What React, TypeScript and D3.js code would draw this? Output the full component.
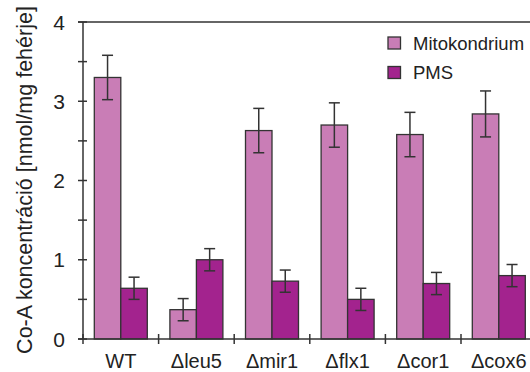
import React from "react";
import * as d3 from "d3";

const categories = ["WT", "Δleu5", "Δmir1", "Δflx1", "Δcor1", "Δcox6"];
const seriesNames = ["Mitokondrium", "PMS"];
const mitoValues = [3.3, 0.37, 2.63, 2.7, 2.58, 2.84];
const mitoErrors = [0.28, 0.14, 0.28, 0.28, 0.28, 0.29];
const pmsValues = [0.64, 1.0, 0.73, 0.5, 0.7, 0.8];
const pmsErrors = [0.14, 0.14, 0.14, 0.14, 0.14, 0.14];
const yTicks = [0, 1, 2, 3, 4];
const yMinorTicks = [0.5, 1.5, 2.5, 3.5];

const colors = ["#c97db6", "#a3238e"];
const font = "'Liberation Sans', Arial, sans-serif";

export default function App() {
  const width = 530;
  const height = 372;
  const x0 = 83;
  const bandW = 75.6;
  const top = 22;
  const bottom = 339;

  const x = d3
    .scaleBand<string>()
    .domain(categories)
    .range([x0, x0 + bandW * categories.length])
    .paddingInner(0)
    .paddingOuter(0);
  const inner = d3.scaleBand<string>().domain(seriesNames).range([11.3, bandW - 11.3]);
  const y = d3.scaleLinear().domain([0, 4]).range([bottom, top]);

  const series = [
    { name: seriesNames[0], values: mitoValues, errors: mitoErrors, color: colors[0] },
    { name: seriesNames[1], values: pmsValues, errors: pmsErrors, color: colors[1] },
  ];

  return (
    <svg width={width} height={height} style={{ position: "absolute", left: 0, top: 0 }} fontFamily={font}>
      <rect width={width} height={height} fill="#fff" />
      {series.map((s) =>
        categories.map((c, i) => {
          const bx = (x(c) as number) + (inner(s.name) as number);
          const bw = inner.bandwidth();
          const cx = bx + bw / 2;
          const v = s.values[i];
          const e = s.errors[i];
          return (
            <g key={s.name + c}>
              <rect x={bx} y={y(v)} width={bw} height={y(0) - y(v)} fill={s.color} stroke="#333" strokeWidth={1.3} />
              <line x1={cx} x2={cx} y1={y(v + e)} y2={y(v - e)} stroke="#333" strokeWidth={1.5} />
              <line x1={cx - 5.5} x2={cx + 5.5} y1={y(v + e)} y2={y(v + e)} stroke="#333" strokeWidth={1.5} />
              <line x1={cx - 5.5} x2={cx + 5.5} y1={y(v - e)} y2={y(v - e)} stroke="#333" strokeWidth={1.5} />
            </g>
          );
        })
      )}
      {/* axes */}
      <line x1={x0} x2={x0} y1={top} y2={bottom} stroke="#333" strokeWidth={1.5} />
      <line x1={x0 - 5} x2={width} y1={top} y2={top} stroke="#333" strokeWidth={1.5} />
      <line x1={x0 - 5} x2={width} y1={bottom} y2={bottom} stroke="#333" strokeWidth={1.5} />
      {[...yTicks, ...yMinorTicks].map((t) => (
        <line key={"t" + t} x1={x0 - 5} x2={x0 + 4} y1={y(t)} y2={y(t)} stroke="#333" strokeWidth={1.5} />
      ))}
      {yTicks.map((t) => (
        <text key={"l" + t} x={65} y={y(t) + 7.5} textAnchor="end" fontSize={21} fill="#222">
          {t}
        </text>
      ))}
      {categories.map((c) => (
        <g key={c}>
          <line x1={x(c) as number} x2={x(c) as number} y1={bottom - 5} y2={bottom + 5} stroke="#333" strokeWidth={1.5} />
          <text x={(x(c) as number) + bandW / 2} y={368} textAnchor="middle" fontSize={20} fill="#222">
            {c}
          </text>
        </g>
      ))}
      <text transform={`translate(32,180) rotate(-90)`} textAnchor="middle" fontSize={21.5} fill="#222">
        Co-A koncentráció [nmol/mg fehérje]
      </text>
      {/* legend */}
      {series.map((s, i) => (
        <g key={"lg" + s.name} transform={`translate(388,${37 + i * 29.5})`}>
          <rect width={12.5} height={12} fill={s.color} stroke="#333" strokeWidth={1.3} />
          <text x={25} y={12.5} fontSize={18.5} fill="#222">
            {s.name}
          </text>
        </g>
      ))}
    </svg>
  );
}
